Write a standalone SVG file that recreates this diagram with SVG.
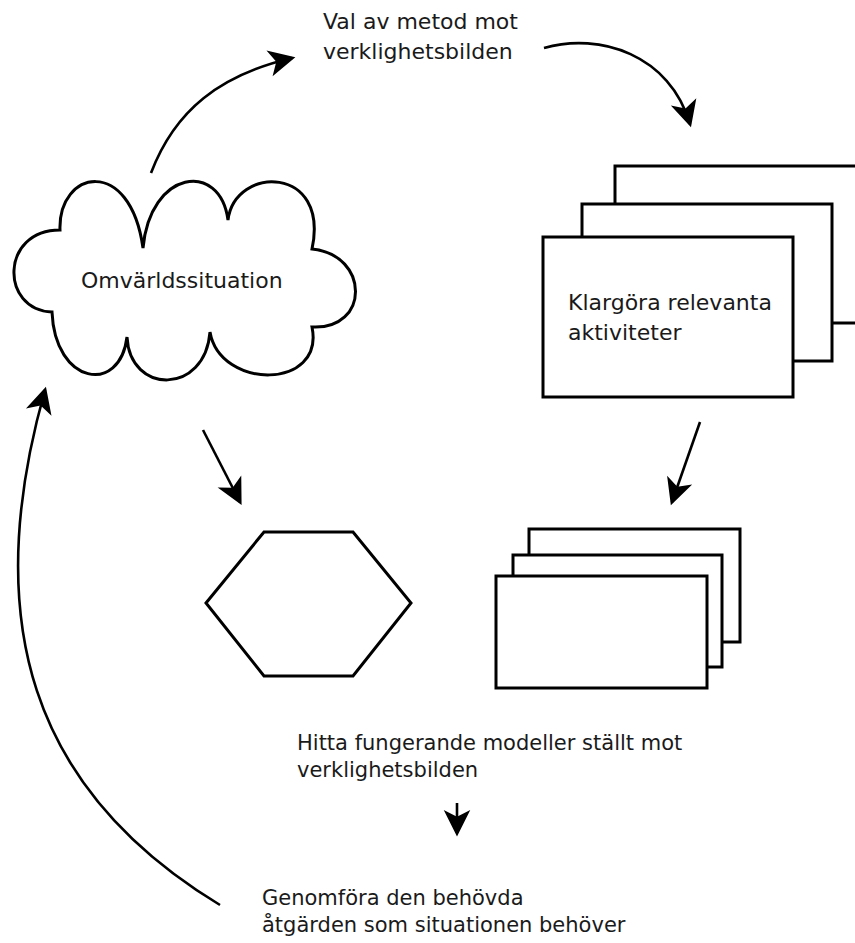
<svg xmlns="http://www.w3.org/2000/svg" width="855" height="943" viewBox="0 0 855 943">
<style>
.shape{fill:#fff;stroke:#000;stroke-width:3;stroke-linejoin:miter}
.conn{fill:none;stroke:#000;stroke-width:2.6;marker-end:url(#ah)}
.lbl{font-family:"DejaVu Sans",Verdana,sans-serif;font-size:21px;fill:#1a1a1a}
.big{font-size:22px}
</style>
<defs>
<marker id="ah" markerUnits="userSpaceOnUse" markerWidth="30" markerHeight="30" viewBox="-22 -12 26 24" refX="0" refY="0" orient="auto">
<path d="M3,0 L-20,-11.5 L-14,0 L-20,11.5 Z" fill="#000"/>
</marker>
</defs>
<rect width="855" height="943" fill="#fff"/>
<g id="connectors">
<path class="conn" d="M151,173 C175,110 220,75 292,58"/>
<path class="conn" d="M544,48 C600,32 670,55 690,124"/>
<path class="conn" d="M203,430 L240,502"/>
<path class="conn" d="M700,422 L672,502"/>
<path class="conn" d="M457,803 L457,833"/>
<path class="conn" d="M220,905 C30,790 -20,620 45,390"/>
</g>
<g id="label-top">
<text class="lbl big" x="323" y="29">Val av metod mot</text>
<text class="lbl big" x="323" y="59">verklighetsbilden</text>
</g>
<g id="cloud">
<path class="shape" d="M60,230 C58,170 130,155 143,248 C150,170 220,160 228,220 C235,165 330,165 312,249 C370,255 370,330 312,327 C325,390 220,390 210,332 C205,395 130,395 127,337 C120,395 55,385 52,312 C0,310 0,230 60,230 Z"/>
<text class="lbl big" x="81" y="288">Omvärldssituation</text>
</g>
<g id="stack-top">
<rect class="shape" x="615" y="166" width="260" height="157"/>
<rect class="shape" x="582" y="204" width="250" height="157"/>
<rect class="shape" x="543" y="237" width="250" height="160"/>
<text class="lbl big" x="568" y="310">Klargöra relevanta</text>
<text class="lbl big" x="568" y="340">aktiviteter</text>
</g>
<g id="hexagon">
<polygon class="shape" points="206,603 264,532 353,532 411,603 353,676 264,676"/>
</g>
<g id="stack-bottom">
<rect class="shape" x="529" y="529" width="211" height="113"/>
<rect class="shape" x="513" y="555" width="209" height="112"/>
<rect class="shape" x="496" y="576" width="211" height="112"/>
</g>
<g id="label-models">
<text class="lbl" x="297" y="750">Hitta fungerande modeller ställt mot</text>
<text class="lbl" x="297" y="777">verklighetsbilden</text>
</g>
<g id="label-action">
<text class="lbl" x="262" y="905">Genomföra den behövda</text>
<text class="lbl" x="262" y="932">åtgärden som situationen behöver</text>
</g>
</svg>
